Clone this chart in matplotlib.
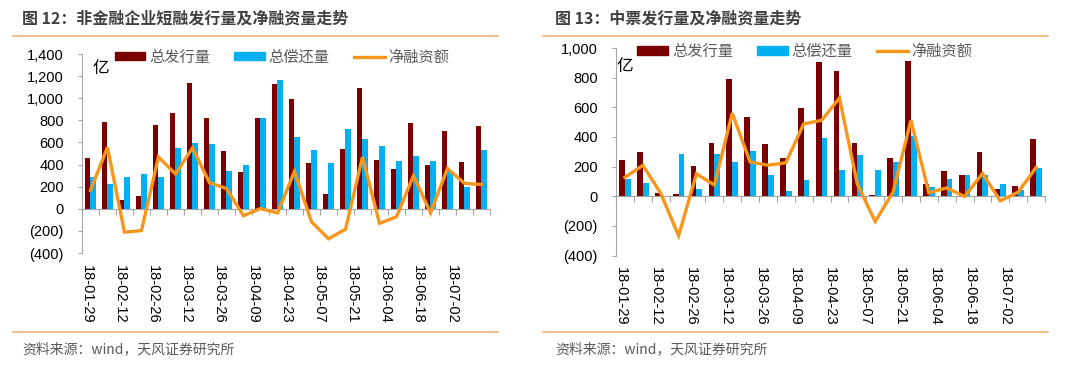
import numpy as np
import matplotlib

matplotlib.use("Agg")
import matplotlib.pyplot as plt  # noqa: E402
from matplotlib.patches import Patch  # noqa: E402
from matplotlib.lines import Line2D  # noqa: E402
from matplotlib.ticker import FuncFormatter  # noqa: E402

plt.rcParams["font.family"] = ["Liberation Sans", "Noto Sans CJK SC", "DejaVu Sans"]

CJK = ["Noto Sans CJK SC", "DejaVu Sans"]

weeks = ["18-01-29", "18-02-05", "18-02-12", "18-02-19", "18-02-26", "18-03-05",
         "18-03-12", "18-03-19", "18-03-26", "18-04-02", "18-04-09", "18-04-16",
         "18-04-23", "18-04-30", "18-05-07", "18-05-14", "18-05-21", "18-05-28",
         "18-06-04", "18-06-11", "18-06-18", "18-06-25", "18-07-02", "18-07-09"]

# 图12 非金融企业短融 (亿)
scp_issue = [460, 785, 75, 117, 755, 868, 1142, 818, 522, 333, 823, 1130,
             990, 415, 138, 540, 1097, 437, 358, 778, 396, 705, 425, 750]
scp_repay = [292, 228, 292, 312, 286, 551, 592, 583, 340, 398, 823, 1168,
             652, 533, 411, 723, 628, 568, 430, 479, 433, 340, 195, 532]
scp_net = [167, 555, -212, -197, 468, 315, 550, 236, 183, -63, 2, -38,
           338, -118, -271, -185, 468, -132, -72, 300, -37, 364, 230, 220]

# 图13 中票 (亿)
mtn_issue = [245, 300, 20, 18, 203, 358, 790, 534, 351, 259, 597, 905,
             845, 360, 5, 257, 914, 83, 171, 144, 295, 52, 70, 383]
mtn_repay = [115, 92, 0, 284, 52, 284, 230, 302, 142, 32, 110, 394,
             180, 279, 176, 230, 403, 59, 115, 146, 142, 83, 43, 191]
mtn_net = [128, 208, 20, -266, 151, 76, 560, 232, 209, 226, 488, 512,
           663, 82, -171, 28, 512, 24, 56, -2, 153, -31, 28, 193]

RED = "#7A0000"
BLUE = "#00B0F0"
ORANGE = "#F7961C"
AXIS = "#A6A6A6"
TXT = "#404040"
SEP = "#EBB27E"


def fmt(v, _pos):
    if v < 0:
        return f"({abs(v):,.0f})"
    return f"{v:,.0f}"


def draw_panel(ax, issue, repay, net, ylim, step, leg_x, leg_y, yi_xy, bw):
    x = np.arange(len(weeks))
    ax.bar(x - bw / 2, issue, width=bw, color=RED, zorder=2)
    ax.bar(x + bw / 2, repay, width=bw, color=BLUE, zorder=2)
    ax.plot(x, net, color=ORANGE, lw=2.4, zorder=3, solid_joinstyle="miter")

    ax.set_xlim(-0.5, len(weeks) - 0.5)
    ax.set_ylim(*ylim)
    ax.set_yticks(np.arange(ylim[0], ylim[1] + 1, step))
    ax.yaxis.set_major_formatter(FuncFormatter(fmt))

    for s in ("top", "right"):
        ax.spines[s].set_visible(False)
    ax.spines["bottom"].set_position(("data", 0))
    ax.spines["bottom"].set_color(AXIS)
    ax.spines["left"].set_color(AXIS)
    ax.spines["bottom"].set_zorder(1)

    ax.set_xticks(np.arange(-0.5, len(weeks), 1.0))
    ax.set_xticklabels([])
    ax.tick_params(axis="x", direction="out", length=4, color=AXIS, width=0.8)
    ax.tick_params(axis="y", direction="out", length=3, color=AXIS, width=0.8,
                   labelsize=10.5, labelcolor="black", pad=10)

    for i in range(0, len(weeks), 2):
        ax.annotate(weeks[i], xy=(i * 0.975 - 0.22, 0), xycoords=("data", "axes fraction"),
                    xytext=(0, -8.5), textcoords="offset points", rotation=270,
                    ha="center", va="top", fontsize=10.5, color="black")

    ax.text(yi_xy[0], yi_xy[1], "亿", transform=ax.transAxes, fontsize=12,
            family=CJK, ha="left", va="center", color="black")

    handles = [Patch(color=RED), Patch(color=BLUE), Line2D([], [], color=ORANGE, lw=2.4)]
    leg = ax.legend(handles, ["总发行量", "总偿还量", "净融资额"], ncol=3, frameon=False,
                    loc="center left", bbox_to_anchor=(leg_x, leg_y), borderpad=0,
                    borderaxespad=0, handlelength=2.0, handleheight=0.5,
                    handletextpad=0.25, columnspacing=1.6,
                    prop={"family": CJK, "size": 11})
    for t in leg.get_texts():
        t.set_color("#595959")


fig = plt.figure(figsize=(10.8, 3.67), dpi=100)

ax1 = fig.add_axes([0.0759, 0.3106, 0.3778, 0.5422])
draw_panel(ax1, scp_issue, scp_repay, scp_net, (-400, 1400), 200,
           0.08, 0.985, (0.026, 0.925), 0.3)

ax2 = fig.add_axes([0.5704, 0.3038, 0.3972, 0.5654])
draw_panel(ax2, mtn_issue, mtn_repay, mtn_net, (-400, 1000), 200,
           0.05, 0.985, (0.0, 0.913), 0.32)

fig.text(22 / 1080, 1 - 18 / 367, "图 12：非金融企业短融发行量及净融资量走势", family=CJK,
         fontsize=11.5, weight="bold", color=TXT, ha="left", va="center")
fig.text(555 / 1080, 1 - 18 / 367, "图 13：中票发行量及净融资量走势", family=CJK,
         fontsize=11.5, weight="bold", color=TXT, ha="left", va="center")

for x0, x1 in ((13, 498), (543, 1048)):
    fig.add_artist(Line2D([x0 / 1080, x1 / 1080], [1 - 36 / 367] * 2, color=SEP, lw=1.2))
    fig.add_artist(Line2D([x0 / 1080, x1 / 1080], [1 - 332 / 367] * 2, color=SEP, lw=1.2))

fig.text(22 / 1080, 1 - 349 / 367, "资料来源：wind，天风证券研究所", family=CJK,
         fontsize=10, color="#595959", ha="left", va="center")
fig.text(555 / 1080, 1 - 349 / 367, "资料来源：wind，天风证券研究所", family=CJK,
         fontsize=10, color="#595959", ha="left", va="center")

fig.savefig("out.png", dpi=100)
plt.close(fig)
